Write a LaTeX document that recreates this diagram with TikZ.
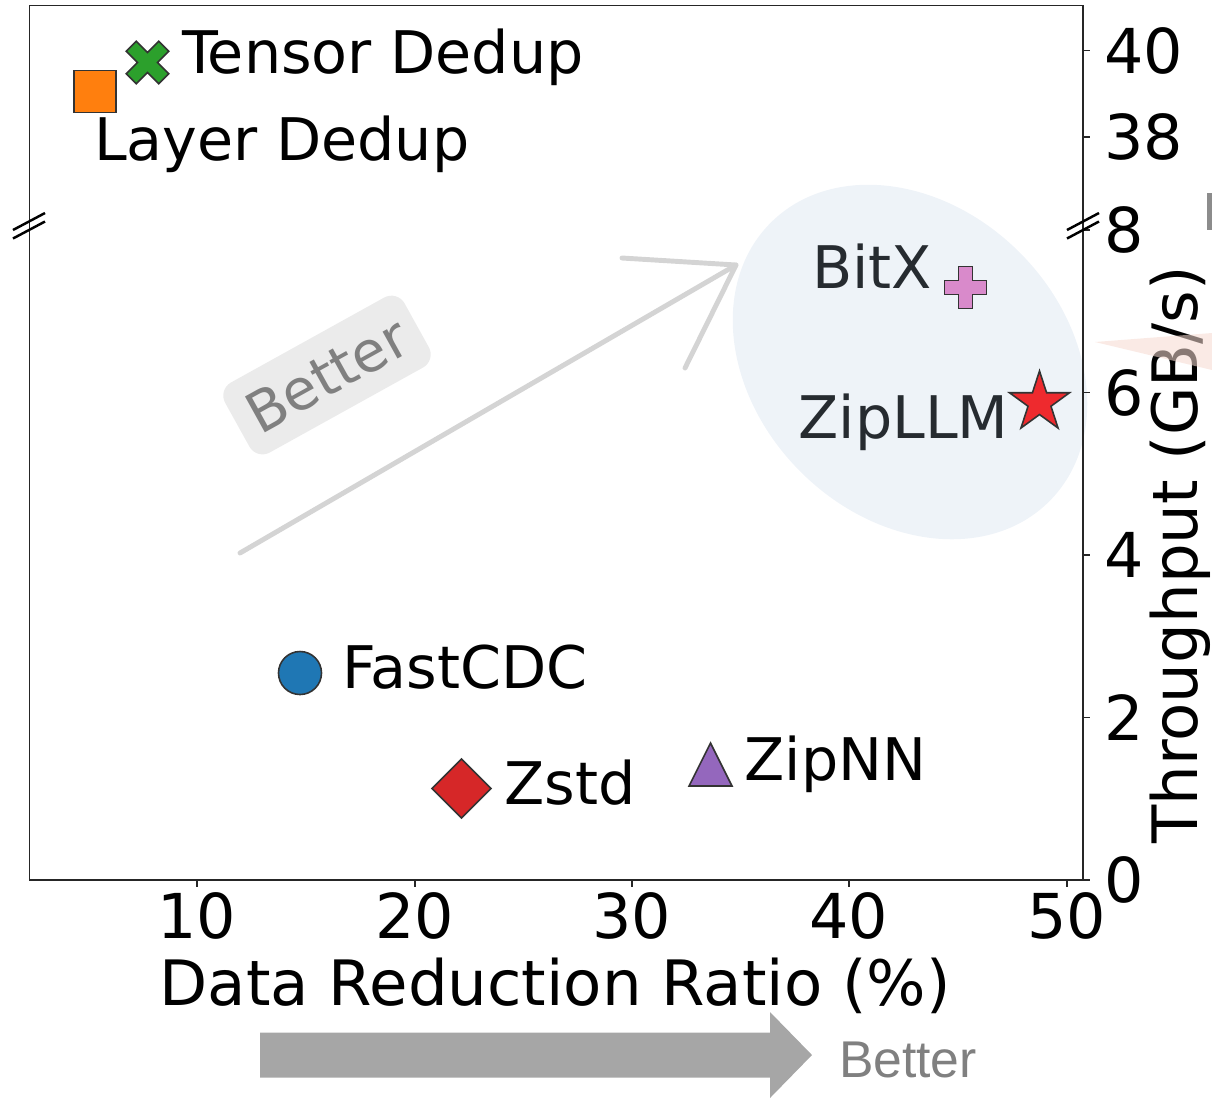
\documentclass[tikz,border=0pt]{standalone}
\usepackage{fontspec}
\setmainfont{DejaVu Sans}
\newfontfamily\arialfont{Liberation Sans}
\usetikzlibrary{shapes.geometric}

\definecolor{mplorange}{HTML}{FF7F0E}
\definecolor{mplgreen}{HTML}{2CA02C}
\definecolor{mplblue}{HTML}{1F77B4}
\definecolor{mplred}{HTML}{D62728}
\definecolor{mplpurple}{HTML}{9467BD}
\definecolor{plusfill}{HTML}{D98ACB}
\definecolor{starred}{HTML}{EE2A2E}
\definecolor{ellfill}{HTML}{EEF3F8}
\definecolor{inkgray}{HTML}{262B30}
\definecolor{bettergray}{HTML}{D4D4D4}
\definecolor{boxgray}{HTML}{EBEBEB}
\definecolor{textgray}{HTML}{808080}
\definecolor{blockgray}{HTML}{A6A6A6}
\definecolor{wedgefill}{RGB}{246,218,209}
\definecolor{bargray}{HTML}{8C8C8C}

\begin{document}
\begin{tikzpicture}[
    x=0.01cm, y=-0.01cm,
    every node/.style={inner sep=0pt, outer sep=0pt},
    frame/.style={draw=black!85, line width=0.5pt},
    dot/.style={draw=black!80, line width=0.45pt},
    lbl/.style={anchor=base west, font=\fontsize{16.7}{20}\selectfont},
    inlbl/.style={lbl, text=inkgray},
    ticklbl/.style={font=\fontsize{17.6}{21}\selectfont},
    axislbl/.style={anchor=base, font=\fontsize{17.8}{21}\selectfont},
    brk/.style={line width=0.7pt},
    better/.style={draw=bettergray, line width=1.4pt, line cap=round, line join=round}
]
    \useasboundingbox (0,0) rectangle (1212,1099);

    \fill[ellfill, shift={(910,362)}, rotate=-45] (0,0) ellipse [x radius=197, y radius=155];

    \draw[frame] (29.5,5.5) rectangle (1083,880);
    \foreach \x in {197,415,632,849,1067} \draw[frame] (\x,880) -- (\x,887);
    \foreach \y in {50.5,137,230,392.5,555,717.5,880} \draw[frame] (1083,\y) -- (1090,\y);

    \node[ticklbl, anchor=north] (x10) at (197,893) {10};
    \node[ticklbl, anchor=north] (x20) at (415,893) {20};
    \node[ticklbl, anchor=north] (x30) at (632,893) {30};
    \node[ticklbl, anchor=north] (x40) at (849,893) {40};
    \node[ticklbl, anchor=north] (x50) at (1067,893) {50};
    \node[ticklbl, anchor=west] (y40) at (1104,50.5) {40};
    \node[ticklbl, anchor=west] (y38) at (1104,137) {38};
    \node[ticklbl, anchor=west] (y8) at (1104,230) {8};
    \node[ticklbl, anchor=west] (y6) at (1104,392.5) {6};
    \node[ticklbl, anchor=west] (y4) at (1104,555) {4};
    \node[ticklbl, anchor=west] (y2) at (1104,717.5) {2};
    \node[ticklbl, anchor=west] (y0) at (1104,880) {0};

    \draw[brk] (13,230) -- (45,213);
    \draw[brk] (13,238.5) -- (45,221.5);
    \draw[brk] (1067,230) -- (1099,213);
    \draw[brk] (1067,238.5) -- (1099,221.5);

    \node[axislbl] (xlabel) at (555,1005) {Data Reduction Ratio (\%)};
    \node[axislbl, rotate=90] (ylabel) at (1197,555) {Throughput (GB/s)};

    \coordinate (bstart) at (240,553);
    \coordinate (btip) at (736,265);
    \coordinate (bbarbA) at (622,258);
    \coordinate (bbarbB) at (685,368);
    \draw[better] (bstart) -- (btip);
    \draw[better] (bbarbA) -- (btip) -- (bbarbB);
    \node[rotate=29, fill=boxgray, rounded corners=0.15cm, minimum width=2.05cm, minimum height=0.8cm, text=textgray, font=\fontsize{16}{19}\selectfont] (betterlbl) at (327,375) {Better};

    \node[dot, rectangle, fill=mplorange, minimum size=0.42cm] (layermk) at (95,91.5) {};
    \coordinate (tensormk) at (147.5,62.5);
    \draw[dot, fill=mplgreen, shift={(tensormk)}, rotate=45] (-7,-23) -- (7,-23) -- (7,-7) -- (23,-7) -- (23,7) -- (7,7) -- (7,23) -- (-7,23) -- (-7,7) -- (-23,7) -- (-23,-7) -- (-7,-7) -- cycle;
    \coordinate (bitxmk) at (965.5,287.5);
    \draw[dot, fill=plusfill, shift={(bitxmk)}] (-7,-21) -- (7,-21) -- (7,-7) -- (21,-7) -- (21,7) -- (7,7) -- (7,21) -- (-7,21) -- (-7,7) -- (-21,7) -- (-21,-7) -- (-7,-7) -- cycle;
    \node[dot, star, star points=5, star point ratio=2.618, minimum size=0.63cm, fill=starred] (zipllmmk) at (1039.5,402.5) {};
    \node[dot, circle, fill=mplblue, minimum size=0.43cm] (fastcdcmk) at (300,673) {};
    \node[dot, diamond, fill=mplred, minimum size=0.59cm] (zstdmk) at (461.5,788.5) {};
    \coordinate (zipnnmk) at (710.5,764.5);
    \draw[dot, fill=mplpurple, shift={(zipnnmk)}] (0,-21.5) -- (21.5,21.5) -- (-21.5,21.5) -- cycle;

    \node[lbl] (tensor) at (182,73) {Tensor Dedup};
    \node[lbl] (layer) at (94,160) {Layer Dedup};
    \node[inlbl] (bitx) at (812,288) {BitX};
    \node[inlbl] (zipllm) at (798.5,438) {ZipLLM};
    \node[lbl] (fastcdc) at (342,688) {FastCDC};
    \node[lbl] (zstd) at (504.5,804) {Zstd};
    \node[lbl] (zipnn) at (744.5,780) {ZipNN};

    \fill[wedgefill, fill opacity=0.56] (1095,342) -- (1212,333) -- (1212,370) -- cycle;
    \fill[bargray] (1207,193) rectangle (1212,230);

    \coordinate (arrtail) at (260,1055);
    \coordinate (arrtip) at (812,1055);
    \fill[blockgray] (arrtail) ++(0,-22.5) -- (770,1032.5) -- (770,1012) -- (arrtip) -- (770,1098) -- (770,1077.5) -- (260,1077.5) -- cycle;
    \node[anchor=base west, font=\arialfont\fontsize{14.7}{17}\selectfont, text=textgray] (betterx) at (839,1077) {Better};
\end{tikzpicture}
\end{document}
